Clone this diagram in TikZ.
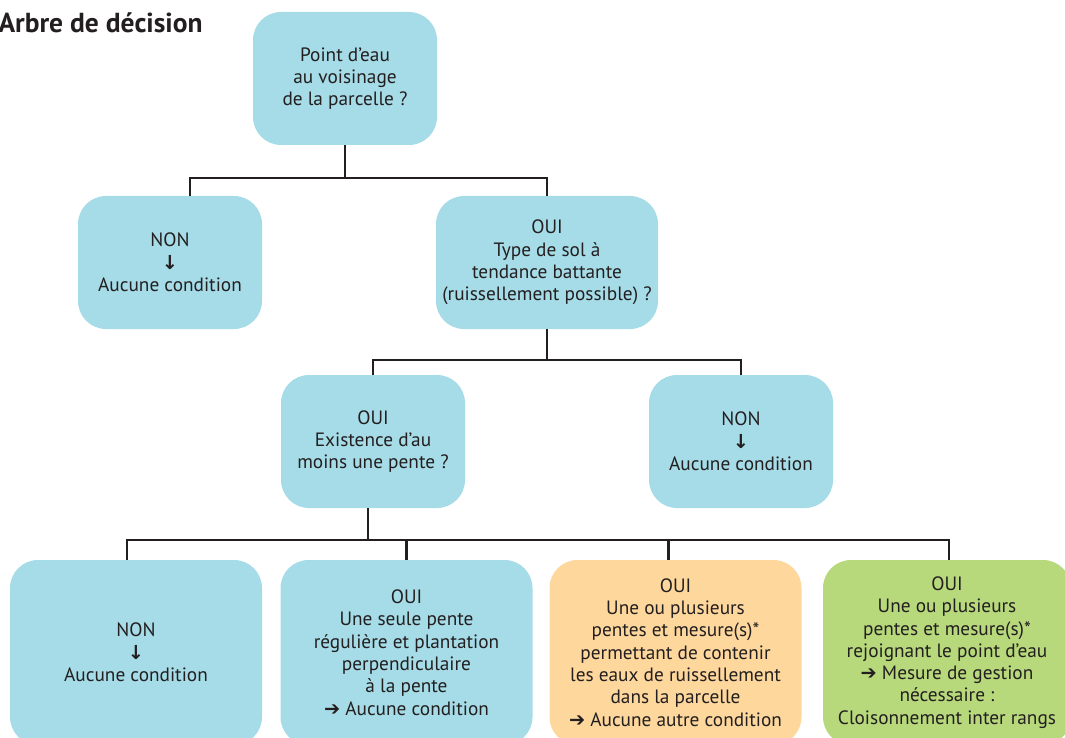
\documentclass[tikz,border=0pt]{standalone}
\usepackage{fontspec}
\setmainfont{PT Sans}
\newfontfamily\symfont{DejaVu Sans}

\definecolor{bleuclair}{HTML}{A6DCE7}
\definecolor{orangeclair}{HTML}{FED79C}
\definecolor{vertclair}{HTML}{B7D87B}
\definecolor{texte}{HTML}{231F20}

\begin{document}
\begin{tikzpicture}[x=1pt,y=-1pt,
    boite/.style={rounded corners=28pt,fill=bleuclair,text=texte,align=center,
        inner sep=0pt,minimum width=184pt,minimum height=133pt,
        font=\fontsize{19.3}{22.3}\selectfont},
    feuille/.style={boite,minimum width=252pt,minimum height=185pt},
    lien/.style={line width=2.5pt,draw=texte}]

    \useasboundingbox (0,0) rectangle (1065,738);
    \clip (0,0) rectangle (1065,738);

    %%%% Titre
    \node [anchor=base west,text=texte,font=\fontsize{27.5}{30}\bfseries\selectfont] (titre) at (-5,33) {Arbre de décision};

    %%%%%%%%%%%%%%%%%%% Niveau 1 %%%%%%%%%%%%%%%%%%%%%%%%%%%%%%%
    \node [boite] (eau) at (345,78.5) {Point d’eau\\au voisinage\\de la parcelle ?};

    %%%%%%%%%%%%%%%%%%% Niveau 2 %%%%%%%%%%%%%%%%%%%%%%%%%%%%%%%
    \node [boite] (nonA) at (170,262.5) {NON\\{\symfont\bfseries ↓}\\Aucune condition};
    \node [boite,minimum width=222pt] (sol) at (547,262.5) {OUI\\Type de sol à\\tendance battante\\(ruissellement possible) ?};

    %%%%%%%%%%%%%%%%%%% Niveau 3 %%%%%%%%%%%%%%%%%%%%%%%%%%%%%%%
    \node [boite] (pente) at (373,441.5) {OUI\\Existence d’au\\moins une pente ?};
    \node [boite] (nonB) at (741,441.5) {NON\\{\symfont\bfseries ↓}\\Aucune condition};

    %%%%%%%%%%%%%%%%%%% Niveau 4 %%%%%%%%%%%%%%%%%%%%%%%%%%%%%%%
    \node [feuille] (nonC) at (136,652.5) {NON\\{\symfont\bfseries ↓}\\Aucune condition};
    \node [feuille] (seule) at (406.5,652.5) {OUI\\Une seule pente\\régulière et plantation\\perpendiculaire\\à la pente\\{\symfont ➔} Aucune condition};
    \node [feuille,fill=orangeclair] (contenir) at (675.5,652.5) {OUI\\Une ou plusieurs\\pentes et mesure(s)*\\permettant de contenir\\les eaux de ruissellement\\dans la parcelle\\{\symfont ➔} Aucune autre condition};
    \node [feuille,fill=vertclair,minimum width=248pt] (rejoindre) at (947,652.5) {OUI\\Une ou plusieurs\\pentes et mesure(s)*\\rejoignant le point d’eau\\{\symfont ➔} Mesure de gestion\\nécessaire :\\Cloisonnement inter rangs};

    % Liens
    \draw [lien] (eau.south) -- ++(0,33) coordinate (b1);
    \draw [lien] ([xshift=20pt]nonA.north) |- (b1) -| (sol.north);

    \draw [lien] (sol.south) -- ++(0,31) coordinate (b2);
    \draw [lien] (pente.north) |- (b2) -| (nonB.north);

    \draw [lien] ([xshift=-5pt]pente.south) -- ++(0,32) coordinate (b3);
    \draw [lien] ([xshift=-9pt]nonC.north) |- (b3) -| ([xshift=2pt]rejoindre.north);
    \draw [lien] (seule.north) -- (seule.north |- b3);
    \draw [lien] ([xshift=-7pt]contenir.north) -- ([xshift=-7pt]contenir.north |- b3);

\end{tikzpicture}
\end{document}
